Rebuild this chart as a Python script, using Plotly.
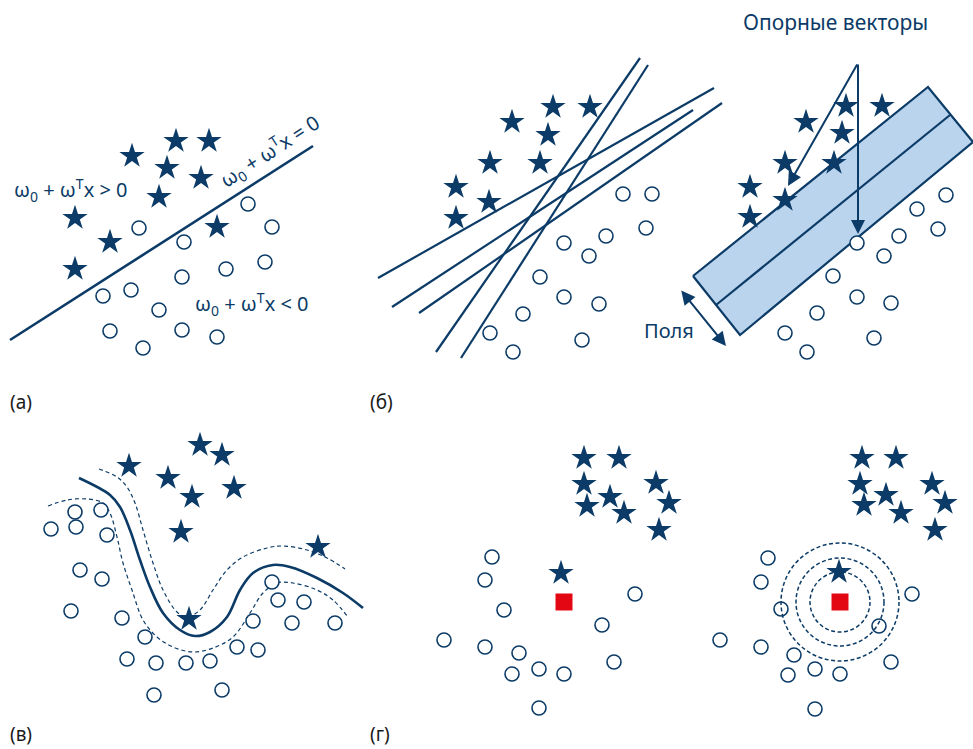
import plotly.graph_objects as go

NAVY = "#0b3b66"
FILL = "#bad4ee"
RED = "#e30613"
FONT = "Noto Sans"

# ---- panel (a): linear separator ----
a_star_x = [176, 209, 132, 167, 201, 159, 75, 110, 217, 75]
a_star_y = [141, 141, 156, 168, 178, 197, 218, 242, 227, 269]
a_circ_x = [248, 139, 272, 184, 265, 226, 182, 131, 103, 159, 110, 182, 217, 143]
a_circ_y = [204, 228, 227, 242, 262, 269, 277, 290, 296, 310, 331, 330, 337, 348]
a_line_x = [10, 313]
a_line_y = [340, 146]

# ---- panel (b): candidate separators, margin and support vectors ----
b_star_x = [553, 590, 512, 548, 490, 540, 456, 489, 456]
b_star_y = [107, 107, 122, 135, 163, 163, 187, 202, 218]
b_circ_x = [623, 652, 646, 606, 564, 589, 540, 564, 599, 523, 490, 582, 513]
b_circ_y = [194, 194, 228, 236, 243, 256, 277, 297, 304, 314, 333, 340, 352]
b_lines = [
    ([640, 436], [58, 352]),
    ([648, 461], [65, 358]),
    ([378, 714], [278, 88]),
    ([392, 693], [307, 110]),
    ([419, 722], [313, 103]),
]
m_star_x = [846, 882, 806, 842, 785, 834, 750, 785, 750]
m_star_y = [106, 106, 122, 133, 163, 163, 187, 200, 217]
m_circ_x = [946, 917, 938, 899, 857, 884, 833, 857, 891, 817, 785, 874, 807]
m_circ_y = [195, 209, 229, 236, 243, 256, 276, 297, 303, 313, 333, 338, 352]
band_x = [693, 928, 973, 740, 693]
band_y = [276, 87, 142, 335, 276]
band_mid_x = [716, 950]
band_mid_y = [305, 115]

# ---- panel (c): nonlinear boundary ----
c_star_x = [129, 200, 222, 168, 192, 234, 181, 318, 189]
c_star_y = [466, 445, 455, 478, 497, 488, 532, 547, 619]
c_circ_x = [75, 101, 51, 76, 107, 80, 102, 71, 122, 145, 272, 278, 304, 253, 292, 335,
            237, 258, 127, 156, 186, 210, 154, 222]
c_circ_y = [512, 510, 529, 527, 535, 570, 579, 611, 618, 637, 582, 600, 602, 621, 623, 623,
            647, 650, 659, 663, 663, 661, 695, 690]
c_curve_x = [79, 110, 120, 130, 140, 150, 163, 180, 195, 210, 227, 240, 253, 273, 290, 317, 343, 363]
c_curve_y = [478, 495, 507, 530, 560, 587, 613, 630, 636, 632, 617, 590, 573, 565, 567, 578, 593, 608]
c_up_x = [99, 117, 127, 135, 143, 153, 163, 177, 187, 200, 213, 227, 243, 267, 283, 307, 327, 345]
c_up_y = [469, 477, 487, 503, 530, 563, 590, 612, 617, 610, 590, 570, 557, 548, 546, 550, 558, 569]
c_lo_x = [48, 67, 87, 103, 110, 117, 123, 132, 143, 157, 173, 193, 213, 233, 250, 263, 277, 293,
          317, 333, 348]
c_lo_y = [506, 500, 499, 503, 513, 537, 563, 590, 620, 637, 647, 652, 648, 637, 613, 593, 583, 583,
          590, 600, 617]

# ---- panel (d): nearest neighbours ----
d_star_x = [584, 619, 584, 610, 656, 587, 624, 669, 659, 561]
d_star_y = [458, 458, 484, 497, 483, 506, 513, 503, 530, 573]
d_circ_x = [492, 485, 504, 635, 602, 444, 485, 519, 539, 512, 564, 614, 539]
d_circ_y = [557, 580, 610, 594, 625, 640, 647, 653, 669, 674, 674, 662, 708]
d_query = (564, 602)
e_star_x = [862, 896, 860, 886, 932, 864, 901, 945, 935, 839]
e_star_y = [458, 458, 484, 495, 484, 505, 513, 503, 530, 572]
e_circ_x = [768, 761, 781, 912, 879, 720, 761, 794, 815, 788, 840, 891, 815]
e_circ_y = [558, 582, 609, 594, 626, 640, 647, 655, 669, 675, 674, 662, 709]
e_query = (840, 602)
e_radii = [30, 44, 59]

fig = go.Figure()


def line(xs, ys, width=2.2, dash=None, shape="linear"):
    fig.add_trace(go.Scatter(x=xs, y=ys, mode="lines", hoverinfo="skip",
                             line=dict(color=NAVY, width=width, dash=dash, shape=shape)))


def stars(xs, ys):
    fig.add_trace(go.Scatter(x=xs, y=ys, mode="markers", hoverinfo="skip",
                             marker=dict(symbol="star", size=19, color=NAVY,
                                         line=dict(width=0))))


def circles(xs, ys):
    fig.add_trace(go.Scatter(x=xs, y=ys, mode="markers", hoverinfo="skip",
                             marker=dict(symbol="circle", size=14, color="white",
                                         line=dict(color=NAVY, width=1.6))))


# (a)
line(a_line_x, a_line_y, 2.6)
stars(a_star_x, a_star_y)
circles(a_circ_x, a_circ_y)

# (b) left: several possible separating lines
for xs, ys in b_lines:
    line(xs, ys, 2.2)
stars(b_star_x, b_star_y)
circles(b_circ_x, b_circ_y)

# (b) right: maximum-margin band
fig.add_trace(go.Scatter(x=band_x, y=band_y, mode="lines", fill="toself", fillcolor=FILL,
                         hoverinfo="skip", line=dict(color=NAVY, width=2.2)))
line(band_mid_x, band_mid_y, 2.2)
stars(m_star_x, m_star_y)
circles(m_circ_x, m_circ_y)

# (c)
line(c_up_x, c_up_y, 1.2, "4px,3px", "spline")
line(c_lo_x, c_lo_y, 1.2, "4px,3px", "spline")
line(c_curve_x, c_curve_y, 2.6, None, "spline")
stars(c_star_x, c_star_y)
circles(c_circ_x, c_circ_y)

# (d) left
stars(d_star_x, d_star_y)
circles(d_circ_x, d_circ_y)
# (d) right with neighbourhood rings
for r in e_radii:
    fig.add_shape(type="circle", xref="x", yref="y",
                  x0=e_query[0] - r, x1=e_query[0] + r,
                  y0=e_query[1] - r, y1=e_query[1] + r,
                  line=dict(color=NAVY, width=1.5, dash="4px,2.5px"), layer="above")
stars(e_star_x, e_star_y)
circles(e_circ_x, e_circ_y)

fig.add_trace(go.Scatter(x=[d_query[0], e_query[0]], y=[d_query[1], e_query[1]],
                         mode="markers", hoverinfo="skip",
                         marker=dict(symbol="square", size=17, color=RED, line=dict(width=0))))

# arrows to support vectors
apex = (858, 63)
for tip in [(788, 186), (858, 234)]:
    fig.add_annotation(x=tip[0], y=tip[1], ax=apex[0], ay=apex[1], xref="x", yref="y",
                       axref="x", ayref="y", text="", showarrow=True, arrowhead=2,
                       arrowsize=1.4, arrowwidth=2, arrowcolor=NAVY)
# margin width arrow
fig.add_annotation(x=726, y=346, ax=680, ay=289, xref="x", yref="y", axref="x", ayref="y",
                   text="", showarrow=True, arrowhead=2, arrowside="end+start",
                   arrowsize=1.4, arrowwidth=2, arrowcolor=NAVY)

texts = [
    (12, 190, "ω<sub>0</sub> + ω<sup>T</sup>x &gt; 0", "left", 0, 20),
    (193, 304, "ω<sub>0</sub> + ω<sup>T</sup>x &lt; 0", "left", 0, 20),
    (270, 151, "ω<sub>0</sub> + ω<sup>T</sup>x = 0", "center", -33, 20),
    (835, 22, "Опорные векторы", "center", 0, 21),
    (642, 330, "Поля", "left", 0, 20),
]
for x, y, t, anc, ang, sz in texts:
    fig.add_annotation(x=x, y=y, xref="x", yref="y", text=t, showarrow=False,
                       xanchor=anc, yanchor="middle", textangle=ang,
                       font=dict(family=FONT, size=sz, color=NAVY))

panel_labels = [(8, 402, "(а)"), (368, 402, "(б)"), (8, 734, "(в)"), (368, 734, "(г)")]
for x, y, t in panel_labels:
    fig.add_annotation(x=x, y=y, xref="x", yref="y", text=t, showarrow=False,
                       xanchor="left", yanchor="middle",
                       font=dict(family=FONT, size=19, color="#1a1a1a"))

fig.update_layout(
    width=973, height=749, margin=dict(l=0, r=0, t=0, b=0),
    paper_bgcolor="white", plot_bgcolor="white", showlegend=False,
    xaxis=dict(range=[0, 973], visible=False, fixedrange=True),
    yaxis=dict(range=[749, 0], visible=False, fixedrange=True),
)
fig.write_html("out.html")
